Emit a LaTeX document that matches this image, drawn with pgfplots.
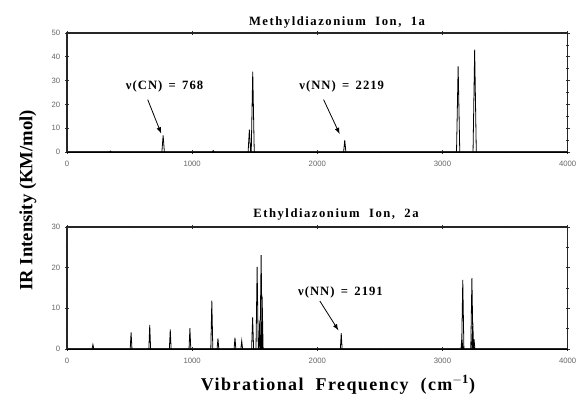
\documentclass[border=0pt]{standalone}
\usepackage{pgfplots}
\pgfplotsset{compat=1.18}
\usepackage{fontspec}
\setmainfont{Liberation Serif}
\setsansfont{Liberation Sans}
\newfontfamily\titlefont[LetterSpace=12]{Liberation Serif}
\newfontfamily\labelfont[LetterSpace=8]{Liberation Serif}
\begin{document}
\begin{tikzpicture}[x=1pt,y=1pt]
\pgfplotsset{
  spec/.style={
    scale only axis, width=375.5pt, xmin=0, xmax=4000,
    axis line style={line width=0.8pt, black!85},
    xtick={0,1000,2000,3000,4000}, minor x tick num=1,
    minor y tick num=1,
    tick align=center,
    major tick length=3pt, minor tick length=2pt,
    tick style={line width=0.5pt, black!80},
    tick label style={font=\fontsize{5.8}{7}\selectfont\sffamily, text=black!60},
    /pgf/number format/assume math mode=true,
    xticklabel style={yshift=-2pt},
    scaled x ticks=false,
    /pgf/number format/1000 sep={},
    unbounded coords=jump,
    clip=false,
  },
  peak/.style={black, line width=0.6pt, line join=miter},
}
% ---------------- top: methyldiazonium ----------------
\begin{axis}[spec, at={(50.25pt,185.25pt)}, anchor=south west,
  height=89.25pt, ymin=0, ymax=50, ytick={0,10,20,30,40,50}]
\addplot[black, line width=0.6pt] coordinates {(0,0) (4000,0)};
\addplot[peak] coordinates {
 (340,0) (347,0.4) (354,0) (nan,nan)
 (758,0) (768,7.0) (778,0) (nan,nan)
 (1160,0) (1168,0.6) (1176,0) (nan,nan)
 (1447,0) (1457,9.4) (1467,0) (nan,nan)
 (1472,0) (1484,33.8) (1496,0) (nan,nan)
 (2210,0) (2219,5.0) (2228,0) (nan,nan)
 (3112,0) (3125,36.0) (3138,0) (nan,nan)
 (3244,0) (3257,43.0) (3270,0)
};
\node[font=\labelfont\bfseries\fontsize{9.5}{11}\selectfont] at (axis cs:780,27.5) {ν(CN)\ \,=\ \,768};
\draw[-latex, line width=0.6pt] (axis cs:645,22) -- (axis cs:752,7.8);
\node[font=\labelfont\bfseries\fontsize{9.5}{11}\selectfont] at (axis cs:2195,27.5) {ν(NN)\ \,=\ \,2219};
\draw[-latex, line width=0.6pt] (axis cs:2050,22) -- (axis cs:2178,7.6);
\end{axis}
% ---------------- bottom: ethyldiazonium ----------------
\begin{axis}[spec, at={(50.25pt,37.5pt)}, anchor=south west,
  height=91.5pt, ymin=0, ymax=30, ytick={0,10,20,30}]
\addplot[black, line width=0.6pt] coordinates {(0,0) (4000,0)};
\addplot[peak] coordinates {
 (200,0) (207,1.1) (214,0) (nan,nan)
 (505,0) (512,4.1) (519,0) (nan,nan)
 (654,0) (661,5.9) (668,0) (nan,nan)
 (818,0) (825,4.8) (832,0) (nan,nan)
 (975,0) (982,5.1) (989,0) (nan,nan)
 (1149,0) (1157,11.9) (1165,0) (nan,nan)
 (1199,0) (1206,2.6) (1213,0) (nan,nan)
 (1335,0) (1342,2.8) (1349,0) (nan,nan)
 (1389,0) (1396,2.0) (1403,0) (nan,nan)
 (1475,0) (1483,7.8) (1491,0) (nan,nan)
 (1510,0) (1519,20.2) (1528,0) (nan,nan)
 (1532,0) (1540,7.0) (1548,0) (nan,nan)
 (1542,0) (1551,23.1) (1560,0) (nan,nan)
 (1551,0) (1559,12.9) (1567,0) (nan,nan)
 (2184,0) (2191,3.9) (2198,0) (nan,nan)
 (3148,0) (3155,3.0) (3162,0) (nan,nan)
 (3153,0) (3162,17.0) (3171,0) (nan,nan)
 (3226,0) (3235,17.4) (3244,0) (nan,nan)
 (3235,0) (3242,6.7) (3249,0) (nan,nan)
 (3245,0) (3252,2.4) (3259,0)
};
\node[font=\labelfont\bfseries\fontsize{9.5}{11}\selectfont] at (axis cs:2185,13.9) {ν(NN)\ \,=\ \,2191};
\draw[-latex, line width=0.6pt] (axis cs:2020,11.8) -- (axis cs:2168,4.6);
\end{axis}
% ---------------- texts ----------------
\node[font=\titlefont\bfseries\fontsize{9.5}{11}\selectfont] at (252.75pt,282.75pt) {Methyldiazonium\ \ Ion,\ \ 1a};
\node[font=\titlefont\bfseries\fontsize{9.5}{11}\selectfont] at (252pt,138.75pt) {Ethyldiazonium\ \ Ion,\ \ 2a};
\node[font=\labelfont\bfseries\fontsize{13.5}{15}\selectfont] at (253.5pt,10.5pt) {Vibrational\ \ Frequency\ \ (cm$^{\mathbf{-1}}$)};
\node[font=\bfseries\fontsize{14}{16}\selectfont, rotate=90] at (21pt,149pt) {IR Intensity (KM/mol)};
\pgfresetboundingbox
\useasboundingbox (0,0) rectangle (434.25pt,299.25pt);
\end{tikzpicture}
\end{document}
